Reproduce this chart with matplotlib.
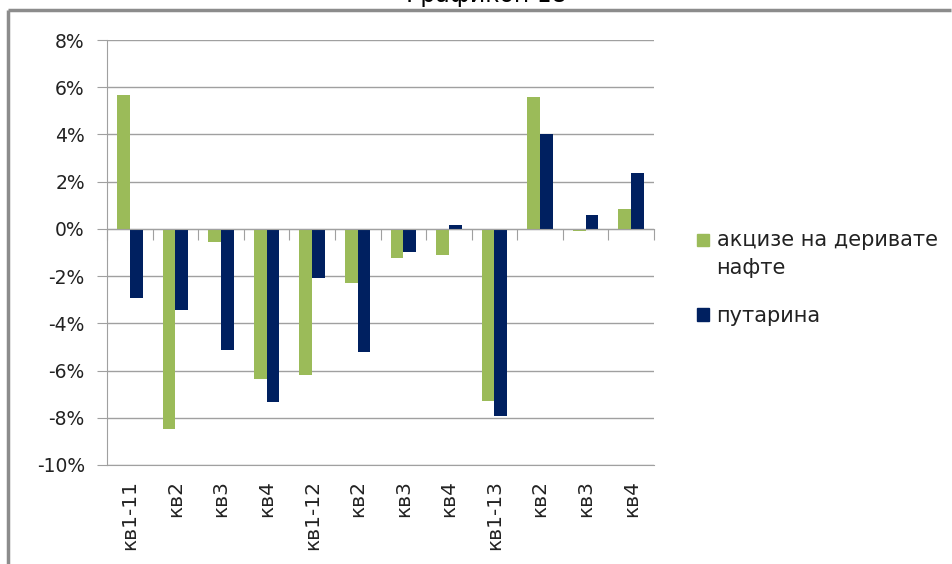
import numpy as np
import matplotlib.pyplot as plt
from matplotlib.lines import Line2D
from matplotlib.patches import Rectangle
from matplotlib.legend_handler import HandlerPatch
from matplotlib.ticker import FuncFormatter

plt.rcParams['font.family'] = ['DejaVu Sans']

# quarters, 2011-2013
labels = ['кв1-11', 'кв2', 'кв3', 'кв4',
          'кв1-12', 'кв2', 'кв3', 'кв4',
          'кв1-13', 'кв2', 'кв3', 'кв4']
akcize = [5.65, -8.47, -0.55, -6.36, -6.19, -2.29, -1.23, -1.10, -7.29, 5.59, -0.08, 0.85]
putarina = [-2.92, -3.43, -5.13, -7.33, -2.08, -5.21, -0.97, 0.17, -7.92, 4.02, 0.59, 2.37]
series_names = ['акцизе на деривате\nнафте', 'путарина']
colors = ['#9bbb59', '#002060']

fig = plt.figure(figsize=(9.52, 5.64), dpi=100)
ax = fig.add_axes([107/952, 1 - 465/564, (654 - 107)/952, (465 - 40)/564])

x = np.arange(len(labels))
w = 0.28
ax.bar(x - w/2, akcize, w, color=colors[0], zorder=3)
ax.bar(x + w/2, putarina, w, color=colors[1], zorder=3)

ax.set_xlim(-0.5, len(labels) - 0.5)
ax.set_ylim(-10, 8)
ax.set_yticks(np.arange(-10, 9, 2))
ax.yaxis.set_major_formatter(FuncFormatter(lambda v, p: '%d%%' % v))
ax.grid(axis='y', color='#a0a0a0', linewidth=1, zorder=0)

for s in ['top', 'right']:
    ax.spines[s].set_visible(False)
ax.spines['left'].set_color('#a0a0a0')
ax.spines['bottom'].set_position(('data', 0))
ax.spines['bottom'].set_color('#a0a0a0')
ax.spines['bottom'].set_zorder(4)

ax.tick_params(axis='y', length=7, color='#a0a0a0', labelsize=13.5, pad=9, labelcolor='#222222')
ax.set_xticks(np.arange(-0.5, len(labels), 1))
ax.tick_params(axis='x', length=8, color='#a0a0a0', labelbottom=False)

# category labels at the bottom of the plot area
sec = ax.secondary_xaxis(0)
sec.set_xticks(x)
sec.set_xticklabels(labels, rotation=90)
sec.tick_params(length=0, labelsize=14.5, pad=11, labelcolor='#222222')
sec.spines['bottom'].set_color('#a0a0a0')

# legend, marker sits on the first line of the text
def top_square(legend, orig_handle, xdescent, ydescent, width, height, fontsize):
    shift = 0.7 * fontsize if orig_handle.get_label() == 'first' else 0
    return Rectangle((-xdescent, -ydescent + shift), width, height)

proxies = [Rectangle((0, 0), 1, 1, color=colors[0], label='first'),
           Rectangle((0, 0), 1, 1, color=colors[1], label='second')]
hm = {p: HandlerPatch(patch_func=top_square) for p in proxies}
leg = ax.legend(proxies, series_names, handler_map=hm,
                loc='center left', bbox_to_anchor=(1.079, 0.44), frameon=False,
                borderaxespad=0, borderpad=0,
                fontsize=15, handlelength=0.58, handleheight=0.58, handletextpad=0.35,
                labelspacing=1.35)
for t in leg.get_texts():
    t.set_linespacing(1.45)
    t.set_color('#222222')

# chart frame and cut-off title
fig.add_artist(Line2D([8/952, 0.999], [1 - 10/564, 1 - 10/564], color='#8c8c8c', lw=2.5,
                      solid_capstyle='butt'))
fig.add_artist(Line2D([8/952, 8/952], [0, 1 - 10/564], color='#8c8c8c', lw=2.5,
                      solid_capstyle='butt'))
fig.text(486/952, 1 - 2/564, 'Графикон 18', ha='center', va='baseline', fontsize=17)

fig.savefig('out.png', dpi=100)
